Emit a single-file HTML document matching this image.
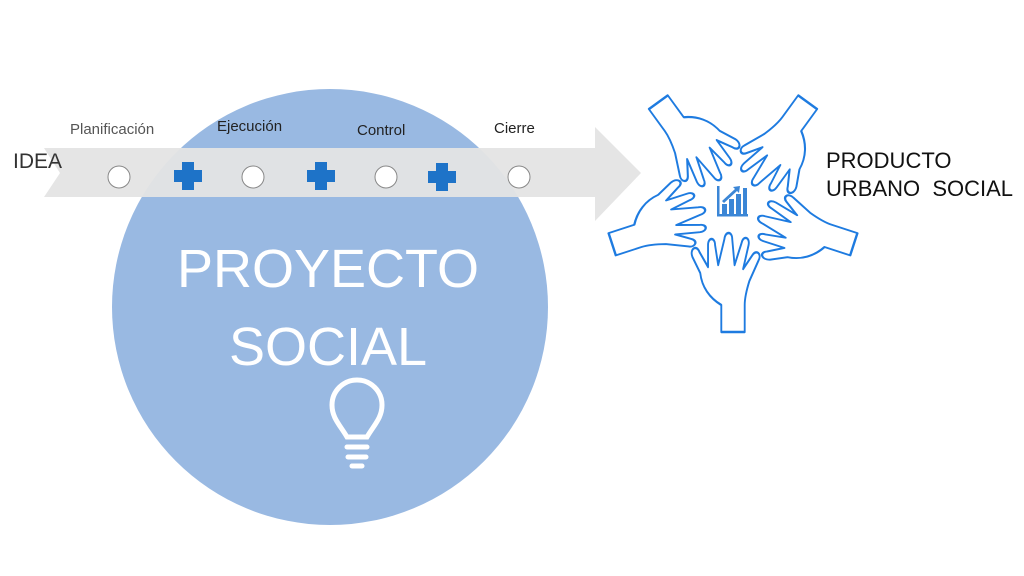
<!DOCTYPE html>
<html><head><style>
body{margin:0;width:1024px;height:576px;background:#fff;overflow:hidden;position:relative;font-family:"Liberation Sans",sans-serif}
.t{position:absolute;white-space:nowrap}
</style></head><body>
<svg width="1024" height="576" style="position:absolute;left:0;top:0">
<circle cx="330" cy="307" r="218" fill="#99b9e2"/>
<polygon points="44,148 595,148 595,127 641,173 595,221 595,197 44,197 60,173" fill="#e4e4e4" opacity="0.95"/>
<g fill="#fff" stroke="#888" stroke-width="1">
<circle cx="119" cy="177" r="11"/><circle cx="253" cy="177" r="11"/><circle cx="386" cy="177" r="11"/><circle cx="519" cy="177" r="11"/>
</g>
<g fill="#1e73c8">
<rect x="182" y="162" width="12" height="28"/><rect x="174" y="170" width="28" height="12"/>
<rect x="315" y="162" width="12" height="28"/><rect x="307" y="170" width="28" height="12"/>
<rect x="436" y="163" width="12" height="28"/><rect x="428" y="171" width="28" height="12"/>
</g>
<text x="328" y="287" fill="#fff" font-size="54" text-anchor="middle" font-family="Liberation Sans">PROYECTO</text>
<text x="328" y="365" fill="#fff" font-size="54" text-anchor="middle" font-family="Liberation Sans">SOCIAL</text>
<g fill="none" stroke="#fff" stroke-width="5" stroke-linecap="round">
<path d="M347,437 C340,425 332,418 332,405 A25,25 0 1 1 382,405 C382,418 374,425 367,437 Z"/>
<line x1="347" y1="447" x2="367" y2="447"/><line x1="348" y1="457" x2="366" y2="457"/><line x1="352" y1="466" x2="362" y2="466"/>
</g>
<defs>
<path id="h" transform="scale(0.78,1)" d="M-15,127 L-15,100 C-30,93 -40,82 -42,68 L-52,52 C-56,44 -47,39 -43,47 L-32,62 L-32,40 C-32,32 -23,32 -23,40 L-19,60 L-11,34 C-10,26 -1,26 -1,34 L2,60 L11,38 C13,30 22,32 20,40 L13,64 L25,50 C30,44 37,49 33,55 L21,76 C17,86 15,94 15,100 L15,127 Z"/>
</defs>
<g transform="translate(733,205)" fill="#fff" stroke="#1e7be0" stroke-width="2.4" stroke-linejoin="round">
<use href="#h"/>
<use href="#h" transform="rotate(72)"/>
<use href="#h" transform="rotate(144)"/>
<use href="#h" transform="rotate(216)"/>
<use href="#h" transform="rotate(288)"/>
</g>
<g fill="#3b86d6">
<rect x="717" y="186" width="2.5" height="30"/><rect x="717" y="214" width="31" height="2.5"/>
<rect x="722" y="204" width="5" height="10"/><rect x="729" y="199" width="5" height="15"/><rect x="736" y="194" width="5" height="20"/><rect x="743" y="188" width="4" height="26"/>
<path d="M722,201 L735,189 L733,187 L740,186 L739,193 L737,191 L724,203 Z"/>
</g>
</svg>
<div class="t" style="left:13px;top:150px;font-size:21px;color:#333">IDEA</div>
<div class="t" style="left:70px;top:121px;font-size:15px;color:#555">Planificación</div>
<div class="t" style="left:217px;top:118px;font-size:15px;color:#222">Ejecución</div>
<div class="t" style="left:357px;top:122px;font-size:15px;color:#222">Control</div>
<div class="t" style="left:494px;top:120px;font-size:15px;color:#222">Cierre</div>
<div class="t" style="left:826px;top:147px;font-size:22px;color:#111;line-height:28px">PRODUCTO<br>URBANO&nbsp; SOCIAL</div>
</body></html>
